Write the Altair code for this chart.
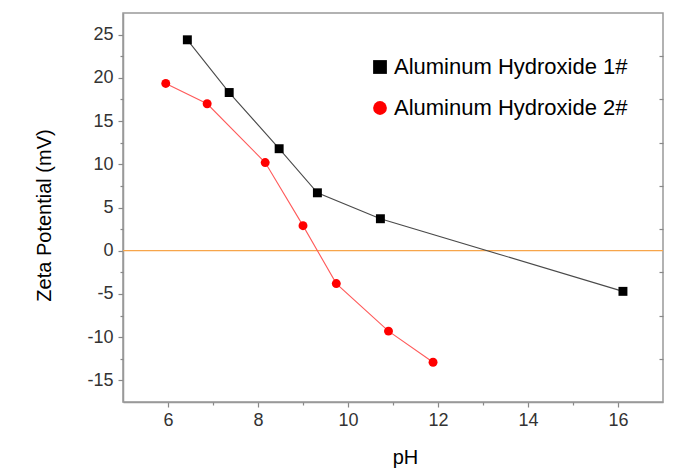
import altair as alt
import pandas as pd

series_names = ["Aluminum Hydroxide 1#", "Aluminum Hydroxide 2#"]
ph_1 = [6.43, 7.36, 8.47, 9.32, 10.72, 16.11]
zeta_1 = [24.4, 18.3, 11.8, 6.7, 3.7, -4.7]
ph_2 = [5.95, 6.87, 8.16, 9.0, 9.74, 10.9, 11.89]
zeta_2 = [19.35, 17.0, 10.2, 2.9, -3.8, -9.3, -12.9]

x_major = [6, 8, 10, 12, 14, 16]
x_minor = [7, 9, 11, 13, 15]
y_major = [-15, -10, -5, 0, 5, 10, 15, 20, 25]
y_minor = [-12.5, -7.5, -2.5, 2.5, 7.5, 12.5, 17.5, 22.5]
zero_line = [0]

df = pd.DataFrame({
    "pH": ph_1 + ph_2,
    "zeta": zeta_1 + zeta_2,
    "series": [series_names[0]] * len(ph_1) + [series_names[1]] * len(ph_2),
})

FONT = "Liberation Sans"
xscale = alt.Scale(domain=[5, 17], nice=False, zero=False)
yscale = alt.Scale(domain=[-17.5, 27.5], nice=False, zero=False)

x_main_axis = alt.Axis(values=x_major, title="pH", tickSize=5, labelPadding=4,
                       grid=False, labelExpr="'' + datum.value", titleX=282, titleY=55,
                       titleBaseline="middle", orient="bottom")
y_main_axis = alt.Axis(values=y_major, title="Zeta Potential (mV)", tickSize=5,
                       labelPadding=5, grid=False, labelExpr="'' + datum.value", titleX=-79,
                       titleY=202, titleBaseline="middle", orient="left")

zero_df = pd.DataFrame({"zero": zero_line})
rule = alt.Chart(zero_df).mark_rule(color="#f7a54a", strokeWidth=1.2).encode(
    y=alt.Y("zero:Q", scale=yscale, axis=None)
)

line1 = alt.Chart(df).transform_filter(
    alt.datum.series == series_names[0]
).mark_line(color="#4a4a4a", strokeWidth=1.1).encode(
    x=alt.X("pH:Q", scale=xscale, axis=None),
    y=alt.Y("zeta:Q", scale=yscale, axis=None),
)
line2 = alt.Chart(df).transform_filter(
    alt.datum.series == series_names[1]
).mark_line(color="#ff5a5a", strokeWidth=1.1).encode(
    x=alt.X("pH:Q", scale=xscale, axis=None),
    y=alt.Y("zeta:Q", scale=yscale, axis=None),
)

legend = alt.Legend(title=None, orient="none", legendX=246, legendY=43,
                    symbolSize=190, labelFontSize=22, labelFont=FONT,
                    labelColor="#000", rowPadding=19, labelOffset=3, labelLimit=400,
                    symbolStrokeWidth=0)

points = alt.Chart(df).mark_point(filled=True, size=80, opacity=1).encode(
    x=alt.X("pH:Q", scale=xscale, axis=x_main_axis),
    y=alt.Y("zeta:Q", scale=yscale, axis=y_main_axis),
    color=alt.Color("series:N", scale=alt.Scale(domain=series_names, range=["#000000", "#ff0000"]), legend=legend),
    shape=alt.Shape("series:N", scale=alt.Scale(domain=series_names, range=["square", "circle"]), legend=legend),
)

minor = alt.Chart(df).mark_point(opacity=0).encode(
    x=alt.X("pH:Q", scale=xscale, axis=alt.Axis(values=x_minor, labels=False, domain=False,
                                                 tickSize=3, title=None, grid=False, orient="bottom")),
    y=alt.Y("zeta:Q", scale=yscale, axis=alt.Axis(values=y_minor, labels=False, domain=False,
                                                   tickSize=3, title=None, grid=False, orient="left")),
)

right_ticks = alt.Chart(df).mark_point(opacity=0).encode(
    y=alt.Y("zeta:Q", scale=yscale, axis=alt.Axis(values=y_minor, labels=False, domain=False,
                                                   tickSize=4, offset=-4, title=None, grid=False,
                                                   orient="right")),
)

chart = alt.layer(rule, line1, line2, points, minor, right_ticks).resolve_axis(
    x="independent", y="independent"
).resolve_scale(x="shared", y="shared").properties(
    width=540, height=389,
    padding={"left": 115, "top": 5, "right": 6, "bottom": 70},
    autosize=alt.AutoSizeParams(type="none"),
).configure_view(
    stroke="#999999", strokeWidth=1.5
).configure_axis(
    labelFont=FONT, labelFontSize=18, labelColor="#333333", labelFontWeight="normal",
    titleFont=FONT, titleFontSize=20, titleColor="#000000", titleFontWeight="normal",
    domainColor="#999999", domainWidth=1.5, tickColor="#888888", tickWidth=1.2,
)

chart.save("out.html", embed_options={"renderer": "svg", "actions": False})
